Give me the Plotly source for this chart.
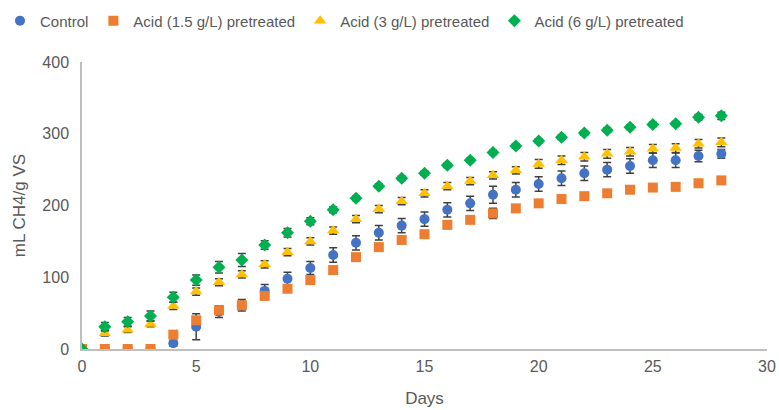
import plotly.graph_objects as go

days = list(range(29))

control = [0, 0, 0, 0, 8, 31, 52, 61, 81, 98, 113, 131, 148, 162, 172, 181,
           194, 203, 215, 222, 230, 238, 245, 250, 255, 263, 263, 269, 272]
control_err = [0, 0, 0, 0, 4, 18, 8, 8, 9, 9, 9, 10, 10, 10, 10, 10,
               10, 10, 12, 10, 10, 10, 10, 10, 10, 10, 10, 8, 6]

acid_15 = [0, 0, 0, 0, 20, 40, 54, 61, 74, 84, 96, 110, 128, 142, 152, 160,
           173, 180, 189, 196, 203, 209, 213, 217, 222, 225, 226, 231, 235]
acid_15_err = [0, 0, 0, 0, 5, 4, 4, 4, 4, 3, 3, 3, 3, 3, 3, 3,
               3, 3, 7, 3, 3, 3, 3, 3, 3, 3, 3, 3, 4]

acid_3 = [0, 22, 27, 35, 60, 80, 93, 104, 118, 135, 150, 165, 181, 195, 206, 217,
          227, 234, 242, 249, 258, 263, 268, 272, 275, 279, 280, 286, 288]
acid_3_err = [0, 4, 4, 4, 5, 5, 5, 5, 5, 5, 5, 5, 5, 5, 5, 5,
              5, 5, 5, 5, 6, 6, 6, 6, 6, 6, 6, 6, 6]

acid_6 = [0, 31, 38, 46, 72, 96, 114, 124, 145, 162, 178, 194, 210, 227, 238, 245,
          256, 263, 274, 283, 290, 295, 301, 305, 309, 313, 314, 323, 325]
acid_6_err = [0, 6, 6, 7, 7, 7, 8, 9, 6, 6, 5, 4, 3, 3, 3, 3,
              3, 3, 3, 3, 3, 3, 3, 3, 3, 3, 3, 4, 5]

series = [
    ("Control", control, control_err, "#4472C4", "circle", 10),
    ("Acid (1.5 g/L) pretreated", acid_15, acid_15_err, "#ED7D31", "square", 10),
    ("Acid (3 g/L) pretreated", acid_3, acid_3_err, "#FFC000", "triangle-up", 11),
    ("Acid (6 g/L) pretreated", acid_6, acid_6_err, "#00B050", "diamond", 10),
]

fig = go.Figure()
for name, vals, err, color, sym, size in series:
    fig.add_trace(go.Scatter(
        x=days, y=vals, name=name, mode="markers",
        marker=dict(color=color, symbol=sym, size=size, line=dict(width=0)),
        error_y=dict(type="data", array=err, color="#404040", thickness=1.5, width=4),
    ))

fig.update_layout(
    width=779, height=410,
    margin=dict(l=82, r=12, t=62, b=61, autoexpand=False),
    plot_bgcolor="white", paper_bgcolor="white",
    font=dict(family="Liberation Sans, Arial", size=16, color="#595959"),
    legend=dict(orientation="h", xref="container", yref="container",
                x=0.0, y=0.949, xanchor="left", yanchor="middle",
                font=dict(size=15, color="#595959"), itemwidth=30,
                tracegroupgap=0),
    showlegend=True,
)
fig.update_xaxes(range=[0, 30], dtick=5, showgrid=False, zeroline=False,
                 showline=True, linecolor="#BFBFBF", linewidth=1.5,
                 ticks="", ticklabelstandoff=2, automargin=False,
                 title=dict(text="Days", font=dict(size=17), standoff=18))
fig.update_yaxes(range=[0, 400], dtick=100, showgrid=False, zeroline=False,
                 showline=True, linecolor="#BFBFBF", linewidth=1.5,
                 ticks="", ticklabelstandoff=8, automargin=False,
                 title=dict(text="mL CH4/g VS", font=dict(size=17), standoff=12))

# page body has a default 8px margin; drop it so the figure sits at the corner
fig.write_html("out.html", config={"displayModeBar": False},
               post_script="document.body.style.margin='0';")
